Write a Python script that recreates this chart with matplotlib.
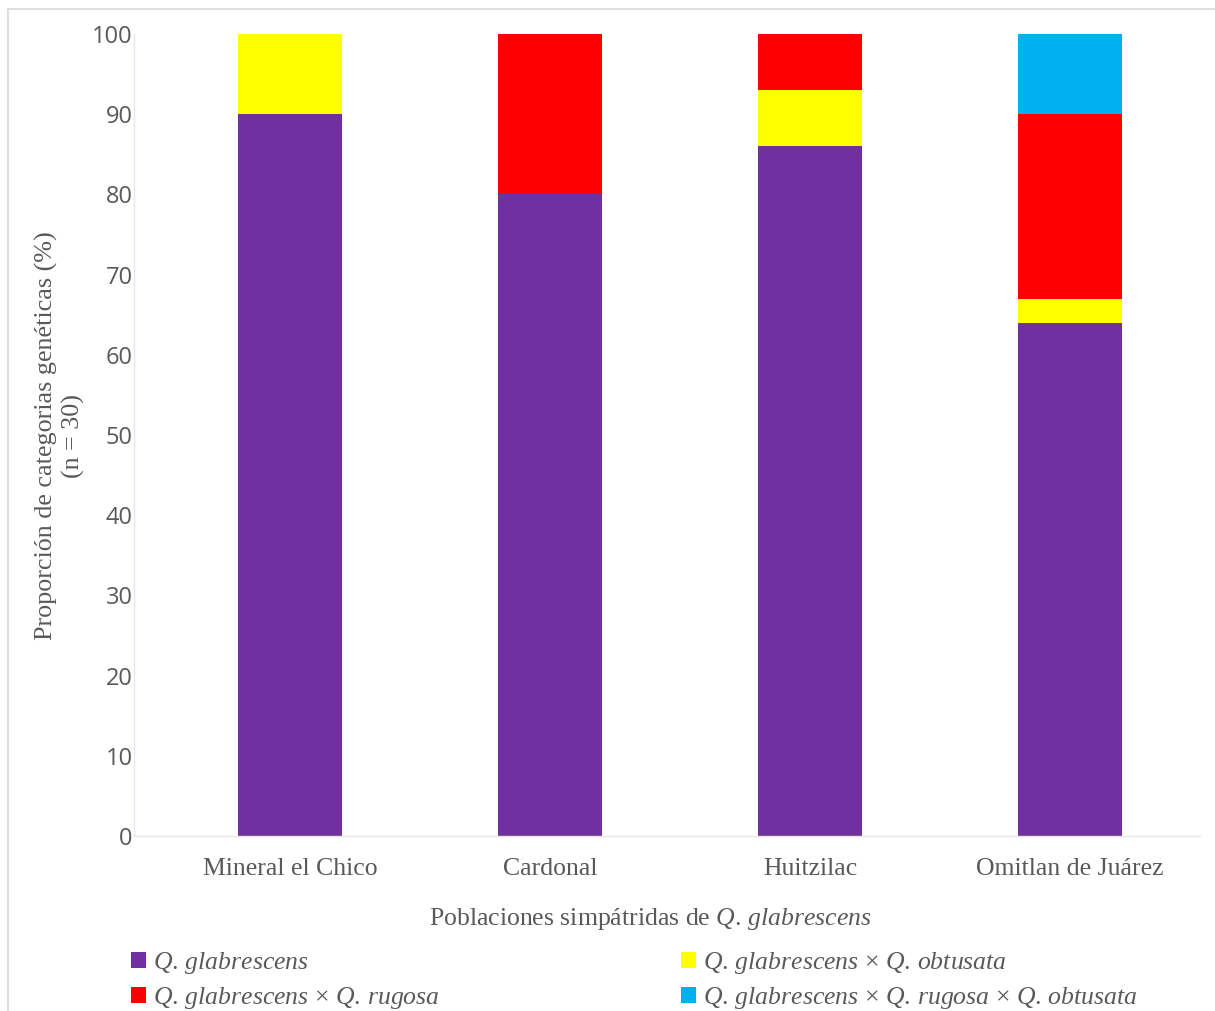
import matplotlib.pyplot as plt
from matplotlib.lines import Line2D

plt.rcParams['mathtext.fontset'] = 'custom'
plt.rcParams['mathtext.rm'] = 'Liberation Serif'
plt.rcParams['mathtext.it'] = 'Liberation Serif:italic'

# genetic categories (%) per sympatric population
populations = ['Mineral el Chico', 'Cardonal', 'Huitzilac', 'Omitlan de Juárez']
glabrescens = [90, 80, 86, 64]
glab_obtusata = [10, 0, 7, 3]
glab_rugosa = [0, 20, 7, 23]
glab_rugosa_obtusata = [0, 0, 0, 10]

series = [glabrescens, glab_obtusata, glab_rugosa, glab_rugosa_obtusata]
colors = ['#7030A0', '#FFFF00', '#FF0000', '#00B0F0']
labels = [r'$\mathit{Q.\,glabrescens}$',
          r'$\mathit{Q.\,glabrescens}$ × $\mathit{Q.\,obtusata}$',
          r'$\mathit{Q.\,glabrescens}$ × $\mathit{Q.\,rugosa}$',
          r'$\mathit{Q.\,glabrescens}$ × $\mathit{Q.\,rugosa}$ × $\mathit{Q.\,obtusata}$']

fig = plt.figure(figsize=(12.15, 10.11), dpi=100)
ax = fig.add_axes([134 / 1215, 1 - 836 / 1011, 1066 / 1215, 802 / 1011])

x = range(len(populations))
bottom = [0] * len(populations)
bars = []
for vals, c, lab in zip(series, colors, labels):
    b = ax.bar(x, vals, width=0.4, bottom=bottom, color=c, label=lab)
    bars.append(b)
    bottom = [bt + v for bt, v in zip(bottom, vals)]

ax.set_xlim(-0.6, 3.5)
ax.set_ylim(0, 100)
ax.set_yticks(range(0, 101, 10))
ax.set_xticks(list(x))
ax.set_xticklabels(populations, fontfamily='Liberation Serif', fontsize=18.5, color='#595959')
for t in ax.get_yticklabels():
    t.set_fontfamily('Open Sans')
    t.set_fontsize(17)
    t.set_color('#595959')
ax.tick_params(axis='y', length=0, pad=1)
ax.tick_params(axis='x', length=0, pad=16)

for s in ['top', 'right']:
    ax.spines[s].set_visible(False)
ax.spines['left'].set_color('#E4E9F0')
ax.spines['bottom'].set_color('#E6E6E6')
ax.spines['left'].set_linewidth(1)
ax.spines['bottom'].set_linewidth(1)

ax.set_ylabel('Proporción de categorias genéticas (%)\n(n = 30)',
              fontfamily='Liberation Serif', fontsize=18.8, color='#595959',
              linespacing=1.2)
ax.yaxis.set_label_coords(-(134 - 85) / 1066, (836 - 436) / 802)
ax.set_xlabel(r'Poblaciones simpátridas de $\mathit{Q.\,glabrescens}$',
              fontfamily='Liberation Serif', fontsize=18.5, color='#595959')
ax.xaxis.set_label_coords((650 - 134) / 1066, -(919 - 836) / 802)
ax.xaxis.label.set_va('center')

# legend in two columns, placed by hand
leg_kw = dict(frameon=False, handlelength=0.6, handleheight=0.6, handletextpad=0.25,
              labelspacing=0.35, prop={'family': 'Liberation Serif', 'size': 18.5},
              labelcolor='#595959', borderaxespad=0, borderpad=0)
fig.legend([bars[0], bars[2]], [labels[0], labels[2]], loc='upper left',
           bbox_to_anchor=(131 / 1215, 1 - 950 / 1011), **leg_kw)
fig.legend([bars[1], bars[3]], [labels[1], labels[3]], loc='upper left',
           bbox_to_anchor=(681 / 1215, 1 - 950 / 1011), **leg_kw)

# light frame around the chart area
fig.add_artist(Line2D([8 / 1215, 8 / 1215], [0, 1 - 9 / 1011], transform=fig.transFigure,
                      color='#D9D9D9', lw=1.2))
fig.add_artist(Line2D([8 / 1215, 1], [1 - 9 / 1011, 1 - 9 / 1011], transform=fig.transFigure,
                      color='#D9D9D9', lw=1.2))

fig.savefig('out.png', dpi=100, facecolor='white')
